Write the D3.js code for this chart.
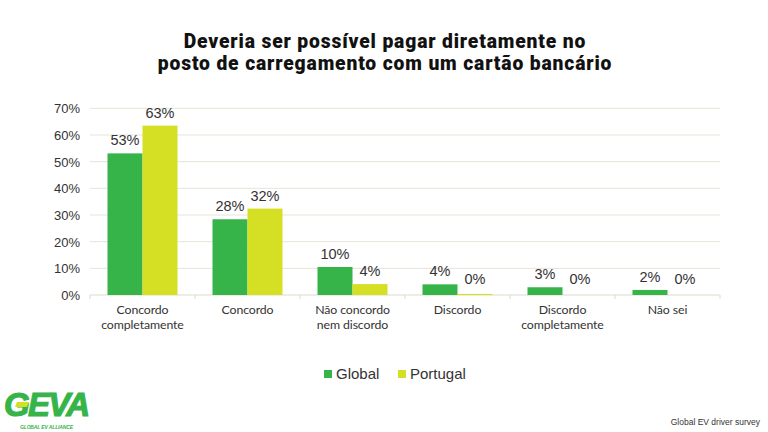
<!DOCTYPE html>
<html><head><meta charset="utf-8">
<script src="https://cdn.jsdelivr.net/npm/d3@7"></script>
<style>body{margin:0;background:#fff}svg{display:block}</style>
</head><body>
<svg id="c" width="768" height="432"></svg>
<script>
const titleLines = ["Deveria ser possível pagar diretamente no", "posto de carregamento com um cartão bancário"];
const categories = [["Concordo","completamente"],["Concordo"],["Não concordo","nem discordo"],["Discordo"],["Discordo","completamente"],["Não sei"]];
const seriesNames = ["Global","Portugal"];
const globalValues = [53.1, 28.4, 10.5, 4.0, 2.9, 1.9];
const portugalValues = [63.5, 32.4, 4.1, 0.4, 0, 0];
const globalLabels = ["53%","28%","10%","4%","3%","2%"];
const portugalLabels = ["63%","32%","4%","0%","0%","0%"];
const yTicks = [0,10,20,30,40,50,60,70];
const colors = ["#36b44a","#d5df24"];

const svg = d3.select("#c");
const x0 = d3.scaleBand().domain(d3.range(categories.length)).range([90,720]).paddingInner(0).paddingOuter(0);
const x1 = d3.scaleBand().domain([0,1]).range([0,x0.bandwidth()]).paddingInner(0).paddingOuter(0.5);
const y = d3.scaleLinear().domain([0,70]).range([295,108.3]);

// gridlines
svg.append("g").selectAll("line").data(yTicks.slice(1)).join("line")
  .attr("x1",90).attr("x2",720).attr("y1",d=>y(d)).attr("y2",d=>y(d))
  .attr("stroke","#e6e3d8").attr("stroke-width",1);

// y axis labels
const yAxis = d3.axisLeft(y).tickValues(yTicks).tickFormat(d=>d+"%").tickSize(0).tickPadding(10);
const ga = svg.append("g").attr("transform","translate(90,0)").call(yAxis);
ga.select(".domain").remove();
ga.selectAll("text").attr("font-family","Liberation Sans, Arial, sans-serif").attr("font-size",13).attr("fill","#333").attr("dy","0.35em");

// x axis baseline + separators
svg.append("line").attr("x1",90).attr("x2",720).attr("y1",y(0)).attr("y2",y(0)).attr("stroke","#dcd9cc");
svg.append("g").selectAll("line").data(d3.range(categories.length+1)).join("line")
  .attr("x1",d=>d<categories.length?x0(d):720).attr("x2",d=>d<categories.length?x0(d):720)
  .attr("y1",y(0)).attr("y2",y(0)+4).attr("stroke","#dcd9cc");

const series = [globalValues, portugalValues];
const labels = [globalLabels, portugalLabels];
series.forEach((vals,s)=>{
  svg.append("g").selectAll("rect").data(vals).join("rect")
    .attr("x",(d,i)=>x0(i)+x1(s)).attr("width",x1.bandwidth())
    .attr("y",d=>y(d)).attr("height",d=>y(0)-y(d)).attr("fill",colors[s]);
  svg.append("g").selectAll("text").data(vals).join("text")
    .attr("x",(d,i)=>x0(i)+x1(s)+x1.bandwidth()/2)
    .attr("y",d=>Math.min(y(d),y(0)-3)-8)
    .attr("text-anchor","middle").attr("font-family","Liberation Sans, Arial, sans-serif")
    .attr("font-size",14.5).attr("fill","#333").text((d,i)=>labels[s][i]);
});

// category labels (one text per line)
const catLines = [];
categories.forEach((lines,i)=>lines.forEach((t,j)=>catLines.push({i,j,t})));
svg.append("g").selectAll("text").data(catLines).join("text")
  .attr("x",d=>x0(d.i)+x0.bandwidth()/2).attr("y",d=>314.3+d.j*14.3)
  .attr("text-anchor","middle").attr("font-family","Lato, sans-serif")
  .attr("font-size",12.3).attr("letter-spacing","-0.1").attr("fill","#333").text(d=>d.t);

// title
svg.append("g").selectAll("text").data(titleLines).join("text")
  .attr("x",385).attr("y",(d,i)=>47.8+i*22.4).attr("text-anchor","middle")
  .attr("font-family","Roboto, sans-serif").attr("font-weight","900")
  .attr("font-size",19.3).attr("letter-spacing","0.85").attr("fill","#111").text(d=>d);

// legend
const lg = svg.append("g");
const lx = [324, 398];
seriesNames.forEach((n,i)=>{
  lg.append("rect").attr("x",lx[i]).attr("y",370).attr("width",8).attr("height",8).attr("fill",colors[i]);
  lg.append("text").attr("x",lx[i]+12).attr("y",379).attr("font-family","Liberation Sans Narrow, Liberation Sans, Arial, sans-serif")
    .attr("font-size",15).attr("fill","#333").text(n);
});

// footer
svg.append("text").attr("x",760).attr("y",425).attr("text-anchor","end")
  .attr("font-family","Liberation Sans Narrow, Liberation Sans, Arial, sans-serif").attr("font-size",8.5).attr("fill","#333")
  .text("Global EV driver survey");

// logo
const logo = svg.append("g");
logo.append("text").attr("x",4).attr("y",416).attr("font-family","Liberation Sans, Arial, sans-serif")
  .attr("font-weight","bold").attr("font-style","italic").attr("font-size",33).attr("fill","#36b44a")
  .attr("stroke","#36b44a").attr("stroke-width",1.2)
  .attr("letter-spacing","-2").attr("textLength",84).text("GEVA");
logo.append("polygon").attr("points","17,402 29,402 27,407 15,407").attr("fill","#d5df24");
logo.append("text").attr("x",20).attr("y",429).attr("font-family","Liberation Sans, Arial, sans-serif")
  .attr("font-weight","bold").attr("font-style","italic").attr("font-size",5).attr("fill","#36b44a")
  .attr("textLength",53).text("GLOBAL EV ALLIANCE");
</script>
</body></html>
